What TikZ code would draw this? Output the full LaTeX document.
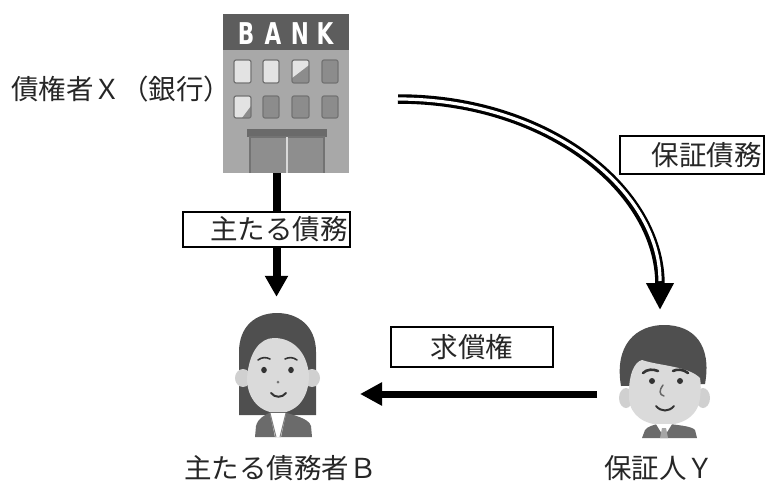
\documentclass[tikz,border=0pt]{standalone}
\usepackage{fontspec}
\newfontfamily\jpfont{Noto Sans CJK JP}
\newfontfamily\bankfont{DejaVu Sans}
\usetikzlibrary{arrows.meta}
\definecolor{bldg}{HTML}{A8A8A8}
\definecolor{bandc}{HTML}{5D5D5D}
\definecolor{winlight}{HTML}{E3E3E3}
\definecolor{windark}{HTML}{8C8C8C}
\definecolor{awn}{HTML}{6A6A6A}
\definecolor{doorc}{HTML}{8E8E8E}
\definecolor{hairc}{HTML}{4F4F4F}
\definecolor{skin}{HTML}{DADADA}
\definecolor{earc}{HTML}{D0D0D0}
\definecolor{suitc}{HTML}{6B6B6B}
\definecolor{tiec}{HTML}{A5A5A5}
\definecolor{facedark}{HTML}{333333}
\begin{document}
\begin{tikzpicture}[x=1pt,y=-1pt,
  lbl/.style={font=\jpfont\fontsize{27.5}{32}\selectfont, text=black!85, inner sep=0pt},
  tagbox/.style={draw=black, line width=2pt, fill=white, inner sep=0pt},
  banklet/.style={font=\bankfont\bfseries\fontsize{30}{30}\selectfont, text=white, inner sep=0pt},
  win/.style={draw=black!55, line width=1.2pt, rounded corners=2pt},
  figarea/.style={inner sep=0pt},
  feature/.style={draw=facedark, line width=2pt, line cap=round},
]
\useasboundingbox (0,0) rectangle (776,485);

% ---------- bank building ----------
\node[figarea, minimum width=126pt, minimum height=159pt] (bank) at (286,93.5) {};
\fill[bldg] (223,14) rectangle (349,173);
\fill[bandc] (223,14) rectangle (349,50);
\node[banklet] (lb) at (246,34) {\scalebox{0.72}[1]{B}};
\node[banklet] (la) at (273,34) {\scalebox{0.72}[1]{A}};
\node[banklet] (ln) at (300,34) {\scalebox{0.72}[1]{N}};
\node[banklet] (lk) at (325,34) {\scalebox{0.72}[1]{K}};
% windows, upper row
\draw[win, fill=winlight] (234,60) rectangle (251,83);
\draw[win, fill=winlight] (263,60) rectangle (279,83);
\begin{scope}
  \clip[rounded corners=2pt] (292,60) rectangle (309,83);
  \fill[windark] (292,60) rectangle (309,83);
  \fill[winlight] (292,60) -- (309,60) -- (309,65) -- (292,78) -- cycle;
\end{scope}
\draw[win] (292,60) rectangle (309,83);
\draw[win, fill=windark] (322,60) rectangle (338,83);
% windows, lower row
\begin{scope}
  \clip[rounded corners=2pt] (234,96) rectangle (251,118);
  \fill[winlight] (234,96) rectangle (251,118);
  \fill[windark] (242,118) -- (251,118) -- (251,106) -- cycle;
\end{scope}
\draw[win] (234,96) rectangle (251,118);
\draw[win, fill=windark] (263,96) rectangle (279,118);
\draw[win, fill=windark] (292,96) rectangle (309,118);
\draw[win, fill=windark] (322,96) rectangle (338,118);
% entrance
\fill[awn] (247,129) rectangle (327,137);
\fill[doorc] (250,137) rectangle (324,173);
\draw[black!55, line width=1.2pt] (250,173) -- (250,137) -- (324,137) -- (324,173);
\draw[white!70!gray, line width=2pt] (287,137) -- (287,173);

% ---------- principal debtor B ----------
\node[figarea, minimum width=85pt, minimum height=124pt] (woman) at (276.5,375) {};
\fill[hairc] (239,415) -- (239,352) .. controls (239,326) and (256,313) .. (277,313)
  .. controls (298,313) and (316,326) .. (316,352) -- (316,415) -- cycle;
\fill[earc] (243,378) ellipse [x radius=8, y radius=9];
\fill[earc] (312,378) ellipse [x radius=8, y radius=9];
\fill[skin] (247,378) .. controls (249,352) and (260,338) .. (274,338)
  .. controls (293,338) and (307,352) .. (309,375)
  .. controls (309,400) and (295,413) .. (278,413)
  .. controls (261,413) and (247,400) .. (247,378) -- cycle;
\fill[suitc] (255,437) -- (256,426) .. controls (258,418) and (265,415) .. (271,412)
  -- (284,412) .. controls (292,415) and (309,418) .. (311,426) -- (312,437) -- cycle;
\fill[white] (270,413) -- (286,413) -- (281,437) -- (275,437) -- cycle;
\draw[black!50, line width=1pt] (270,413) -- (276,437) (286,413) -- (280,437);
\draw[feature, line width=1.6pt] (258,360) .. controls (262,357) and (266,357) .. (270,359);
\draw[feature, line width=1.6pt] (285,359) .. controls (289,357) and (293,357) .. (297,360);
\fill[facedark] (264,370) ellipse [x radius=2.8, y radius=3.2];
\fill[facedark] (291,370) ellipse [x radius=2.8, y radius=3.2];
\fill[black!55] (278,382) circle [radius=1.5];
\draw[feature] (271,393) .. controls (275,398) and (282,398) .. (286,393);

% ---------- guarantor Y ----------
\node[figarea, minimum width=87pt, minimum height=113pt] (man) at (663.5,381.5) {};
\fill[hairc] (621,386) .. controls (614,345) and (636,325) .. (664,325)
  .. controls (694,325) and (712,345) .. (705,384) -- cycle;
\fill[earc] (626,398) ellipse [x radius=7, y radius=10];
\fill[earc] (703,398) ellipse [x radius=7, y radius=10];
\fill[skin] (629,392) .. controls (629,375) and (634,362) .. (642,360)
  .. controls (660,366) and (688,366) .. (700,378)
  .. controls (701,384) and (701,390) .. (700,398)
  .. controls (698,416) and (683,425) .. (664,425)
  .. controls (645,425) and (630,416) .. (629,398) -- cycle;
\fill[suitc] (642,438) -- (645,430) .. controls (648,426) and (654,425) .. (658,424)
  -- (670,424) .. controls (676,425) and (692,426) .. (695,430) -- (697,438) -- cycle;
\fill[white] (656,424) -- (672,424) -- (664,437) -- cycle;
\fill[tiec] (662,428) -- (666,428) -- (668,438) -- (660,438) -- cycle;
\draw[feature, line width=2.6pt] (643,373) .. controls (647,369) and (653,369) .. (658,371);
\draw[feature, line width=2.6pt] (673,371) .. controls (677,369) and (683,369) .. (688,373);
\fill[facedark] (652,381) circle [radius=3];
\fill[facedark] (680,381) circle [radius=3];
\draw[feature, draw=black!60, line width=1.5pt] (663,385) .. controls (659,390) and (659,395) .. (664,396);
\draw[feature] (656,406) .. controls (661,412) and (669,412) .. (674,406);

% ---------- connectors ----------
% principal obligation: bank to B
\draw[line width=8pt, -{Triangle[width=22pt,length=21pt]}]
  (bank.south -| woman.north) -- ([yshift=16pt]woman.north);
% guarantee obligation: double curved line from the bank to Y
\coordinate (gs) at (398,99);
\coordinate (gt) at (660,310);
\draw[line width=9.5pt, -{Triangle[width=26pt,length=27pt]}]
  (gs) .. controls (548,99) and (660,190) .. (gt);
\draw[white, line width=3.2pt, shorten >=29pt]
  (gs) .. controls (548,99) and (660,190) .. (gt);
% right of recourse: Y to B
\coordinate (ys) at (597,394);
\coordinate (yt) at (360,394);
\draw[line width=7pt, -{Triangle[width=22pt,length=22pt]}] (ys) -- (yt);

% ---------- labels ----------
\node[tagbox, minimum width=167pt, minimum height=35pt] (tmain) at (266.5,229) {};
\node[lbl, anchor=east] (tmaintxt) at ([xshift=-3pt]tmain.east) {主たる債務};
\node[tagbox, minimum width=144pt, minimum height=38pt] (tguar) at (692,155) {};
\node[lbl, anchor=east] (tguartxt) at ([xshift=-3pt]tguar.east) {保証債務};
\node[tagbox, minimum width=162pt, minimum height=40pt, lbl] (trecourse) at (472,347) {求償権};
\node[lbl, anchor=west] (nx) at (11,89) {債権者Ｘ（銀行）};
\node[lbl, anchor=west] (nb) at (184,468) {主たる債務者Ｂ};
\node[lbl, anchor=west] (ny) at (604,468) {保証人Ｙ};
\end{tikzpicture}
\end{document}
